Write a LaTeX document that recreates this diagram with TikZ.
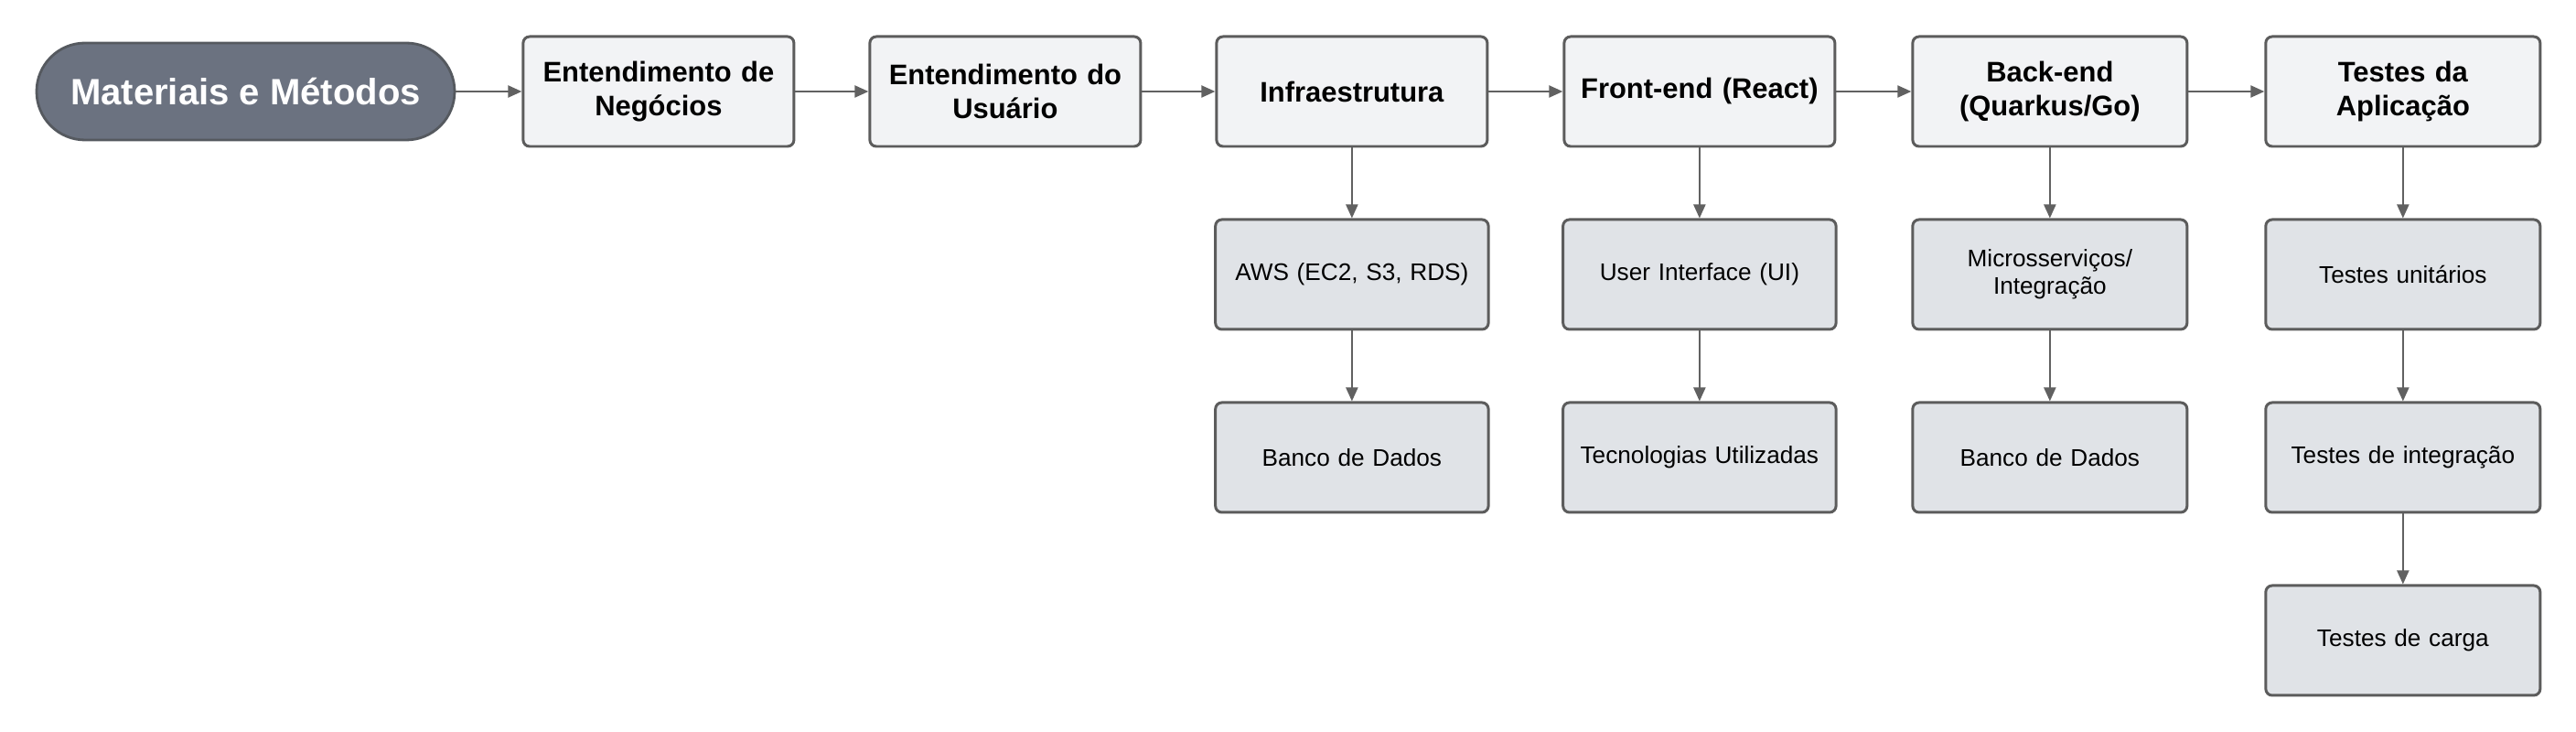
\documentclass[tikz,border=0pt]{standalone}
\usepackage{fontspec}
\setmainfont{Liberation Sans}
\usepackage{xcolor}
\usepackage{tikz}
\usetikzlibrary{arrows.meta, positioning}

\definecolor{pillgray}{HTML}{6B7280}
\definecolor{pillline}{HTML}{55595F}
\definecolor{headfill}{HTML}{F2F3F5}
\definecolor{subfill}{HTML}{E0E3E7}
\definecolor{boxline}{HTML}{5C5C5C}
\definecolor{arrgray}{HTML}{616161}

\begin{document}
\begin{tikzpicture}[
    pill/.style={rectangle, draw=pillline, fill=pillgray, line width=0.8pt, rounded corners=0.53cm, minimum width=4.57cm, minimum height=1.06cm, text=white, font=\fontsize{11.4}{13}\selectfont\bfseries},
    head/.style={rectangle, draw=boxline, fill=headfill, line width=0.85pt, rounded corners=2pt, minimum width=2.96cm, minimum height=1.2cm, text width=2.6cm, align=center, font=\fontsize{8.8}{10.7}\selectfont\bfseries},
    sub/.style={rectangle, draw=boxline, fill=subfill, line width=0.85pt, rounded corners=2pt, minimum width=2.96cm, minimum height=1.2cm, text width=2.75cm, align=center, font=\fontsize{7.45}{8.7}\selectfont},
    arr/.style={-{Triangle[length=1.5mm, width=1.3mm]}, draw=arrgray, fill=arrgray, line width=0.6pt}
]
\useasboundingbox (0,0) rectangle (28.16,-8);

% Start
\node[pill] (mm) at (2.685,-1.0) {Materiais e Métodos};

% Top row
\node[head, right=0.72cm of mm] (neg) {Entendimento de\\Negócios};
\node[head, right=0.80cm of neg] (usr) {Entendimento do\\Usuário};
\node[head, right=0.80cm of usr] (infra) {Infraestrutura};
\node[head, right=0.81cm of infra] (front) {Front-end (React)};
\node[head, minimum width=3cm, right=0.82cm of front] (back) {Back-end\\(Quarkus/Go)};
\node[head, minimum width=3cm, right=0.83cm of back] (test) {Testes da\\Aplicação};

% Infraestrutura column
\node[sub, below=0.77cm of infra] (aws) {AWS (EC2, S3, RDS)};
\node[sub, below=0.77cm of aws] (db1) {Banco de Dados};

% Front-end column
\node[sub, below=0.77cm of front] (ui) {User Interface (UI)};
\node[sub, below=0.77cm of ui] (tec) {Tecnologias Utilizadas};

% Back-end column
\node[sub, minimum width=3cm, below=0.77cm of back] (micro) {Microsserviços/\\Integração};
\node[sub, minimum width=3cm, below=0.77cm of micro] (db2) {Banco de Dados};

% Testes column
\node[sub, minimum width=3cm, below=0.77cm of test] (unit) {Testes unitários};
\node[sub, minimum width=3cm, below=0.77cm of unit] (integ) {Testes de integração};
\node[sub, minimum width=3cm, below=0.77cm of integ] (load) {Testes de carga};

% Arrows
\draw[arr] (mm) -- (neg);
\draw[arr] (neg) -- (usr);
\draw[arr] (usr) -- (infra);
\draw[arr] (infra) -- (front);
\draw[arr] (front) -- (back);
\draw[arr] (back) -- (test);
\draw[arr] (infra) -- (aws);
\draw[arr] (aws) -- (db1);
\draw[arr] (front) -- (ui);
\draw[arr] (ui) -- (tec);
\draw[arr] (back) -- (micro);
\draw[arr] (micro) -- (db2);
\draw[arr] (test) -- (unit);
\draw[arr] (unit) -- (integ);
\draw[arr] (integ) -- (load);

\end{tikzpicture}
\end{document}
